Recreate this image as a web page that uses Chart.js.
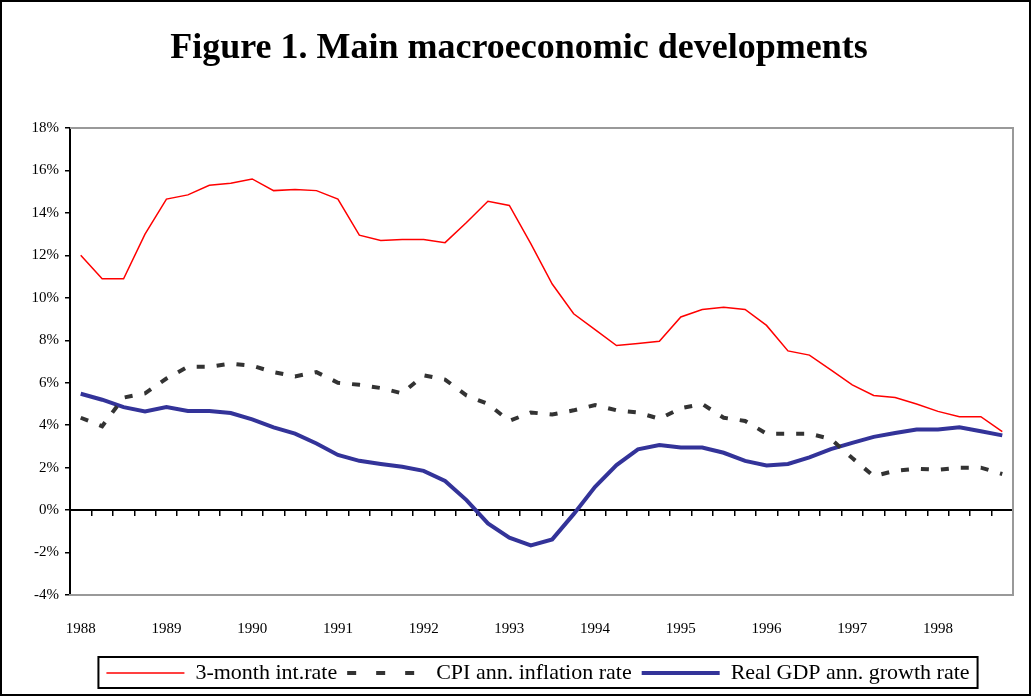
<!DOCTYPE html>
<html>
<head>
<meta charset="utf-8">
<title>Figure 1. Main macroeconomic developments</title>
<script src="https://cdn.jsdelivr.net/npm/chart.js@4.4.1/dist/chart.umd.min.js"></script>
<style>
  html, body { margin: 0; padding: 0; background: #fff; }
  #wrap { position: relative; width: 1032px; height: 697px; }
</style>
</head>
<body>
<div id="wrap"><canvas id="macroChart" width="1032" height="697"></canvas></div>
<script>
  // quarterly data, 1988 Q1 .. 1998 Q4, in percent
  const years = ['1988', '1989', '1990', '1991', '1992', '1993', '1994', '1995', '1996', '1997', '1998'];
  const interestRate = [12.0, 10.9, 10.9, 13.0, 14.65, 14.85, 15.3, 15.4, 15.6, 15.05, 15.1, 15.05,
    14.65, 12.95, 12.7, 12.75, 12.75, 12.6, 13.55, 14.55, 14.35, 12.55, 10.65, 9.25,
    8.5, 7.75, 7.85, 7.95, 9.1, 9.45, 9.55, 9.45, 8.7, 7.5, 7.3, 6.6,
    5.9, 5.4, 5.3, 5.0, 4.65, 4.4, 4.4, 3.7];
  const cpiInflation = [4.35, 3.95, 5.3, 5.5, 6.2, 6.75, 6.75, 6.9, 6.8, 6.5, 6.3, 6.5,
    6.0, 5.9, 5.75, 5.5, 6.35, 6.15, 5.4, 5.0, 4.2, 4.6, 4.5, 4.7,
    4.95, 4.7, 4.6, 4.3, 4.8, 5.0, 4.35, 4.2, 3.6, 3.6, 3.6, 3.35,
    2.45, 1.6, 1.85, 1.95, 1.9, 2.0, 2.0, 1.7];
  const gdpGrowth = [5.48, 5.2, 4.85, 4.65, 4.85, 4.67, 4.67, 4.57, 4.27, 3.9, 3.6, 3.14,
    2.6, 2.32, 2.17, 2.04, 1.85, 1.37, 0.47, -0.63, -1.3, -1.66, -1.38, -0.19,
    1.1, 2.12, 2.86, 3.06, 2.95, 2.95, 2.7, 2.32, 2.1, 2.17, 2.48, 2.87,
    3.17, 3.45, 3.63, 3.8, 3.8, 3.9, 3.71, 3.52];
  const seriesNames = ['3-month int.rate', 'CPI ann. inflation rate', 'Real GDP ann. growth rate'];
  const yMin = -4, yMax = 18, yStep = 2;

  // one category per quarter; the year label sits on the first quarter
  const quarters = [];
  years.forEach(y => { for (let q = 1; q <= 4; q++) quarters.push(y + ' Q' + q); });

  const serif = "'Liberation Serif', 'Times New Roman', serif";

  const framePlugin = {
    id: 'frame',
    afterLayout(chart) {
      // legend sits a bit right of the plot centre in the original
      const lg = chart.legend;
      const dx = 538 - (lg.left + lg.right) / 2;
      lg.left += dx;
      lg.right += dx;
    },
    beforeDraw(chart) {
      const c = chart.ctx;
      c.save();
      c.fillStyle = '#fff';
      c.fillRect(0, 0, chart.width, chart.height);
      c.restore();
    },
    afterDraw(chart) {
      const c = chart.ctx, a = chart.chartArea;
      c.save();
      // plot area border, top and right
      c.strokeStyle = '#999';
      c.lineWidth = 2;
      c.beginPath();
      c.moveTo(a.left, a.top);
      c.lineTo(a.right, a.top);
      c.lineTo(a.right, a.bottom);
      c.stroke();
      // box around the legend
      const hb = chart.legend.legendHitBoxes;
      if (hb && hb.length) {
        const first = hb[0], last = hb[hb.length - 1];
        const l = first.left - 8, r = last.left + last.width + 8;
        const t = first.top - 5, b = first.top + first.height + 4;
        c.strokeStyle = '#000';
        c.lineWidth = 2;
        c.strokeRect(l, t, r - l, b - t);
      }
      // outer frame
      c.strokeStyle = '#000';
      c.lineWidth = 2;
      c.strokeRect(1, 1, chart.width - 3, chart.height - 3);
      c.restore();
    }
  };

  const ctx = document.getElementById('macroChart').getContext('2d');
  new Chart(ctx, {
    type: 'line',
    data: {
      labels: quarters,
      datasets: [{
        label: seriesNames[0],
        data: interestRate,
        borderColor: '#ff0000',
        borderWidth: 1.5,
        pointRadius: 0,
        tension: 0
      }, {
        label: seriesNames[1],
        data: cpiInflation,
        borderColor: '#333333',
        borderWidth: 4,
        borderDash: [8, 12],
        pointRadius: 0,
        tension: 0
      }, {
        label: seriesNames[2],
        data: gdpGrowth,
        borderColor: '#333399',
        borderWidth: 4,
        pointRadius: 0,
        tension: 0
      }]
    },
    options: {
      responsive: false,
      animation: false,
      devicePixelRatio: 1,
      layout: { padding: { left: 25, right: 19, top: 0, bottom: 3 } },
      plugins: {
        title: {
          display: true,
          text: 'Figure 1. Main macroeconomic developments',
          color: '#000',
          font: { family: serif, size: 36, weight: 'bold' },
          padding: { top: 27, bottom: 57.8 }
        },
        legend: {
          position: 'bottom',
          labels: {
            color: '#000',
            font: { family: serif, size: 22 },
            usePointStyle: true,
            pointStyle: 'line',
            pointStyleWidth: 78,
            boxWidth: 78,
            padding: 10,
            generateLabels: chart => {
              const items = Chart.defaults.plugins.legend.labels.generateLabels(chart);
              // point style legend ignores the dataset dash, so put it back
              items.forEach(it => { if (it.datasetIndex === 1) it.lineDash = [9, 20]; });
              return items;
            }
          }
        },
        tooltip: { enabled: false }
      },
      scales: {
        y: {
          min: yMin,
          max: yMax,
          ticks: {
            stepSize: yStep,
            color: '#000',
            font: { family: serif, size: 15 },
            padding: 6,
            callback: v => v + '%'
          },
          grid: { drawOnChartArea: false, drawTicks: true, tickLength: 5, color: '#000', lineWidth: 1.5 },
          border: { color: '#000', width: 2 },
          afterFit: s => { s.width = 45; }
        },
        x: {
          position: { y: 0 },
          offset: true,
          ticks: { autoSkip: false, maxRotation: 0, callback: () => '' },
          grid: { offset: true, drawOnChartArea: false, drawTicks: true, tickLength: 5, color: '#000', lineWidth: 1.5 },
          border: { color: '#000', width: 2 }
        },
        x2: {
          type: 'category',
          position: 'bottom',
          offset: true,
          grid: { display: false },
          border: { display: true, color: '#999', width: 2 },
          ticks: {
            autoSkip: false,
            maxRotation: 0,
            padding: 17,
            color: '#000',
            font: { family: serif, size: 15 },
            callback: (v, i) => (i % 4 === 0 ? years[i / 4] : '')
          },
          afterFit: s => { s.height = 57; }
        }
      }
    },
    plugins: [framePlugin]
  });
</script>
</body>
</html>
